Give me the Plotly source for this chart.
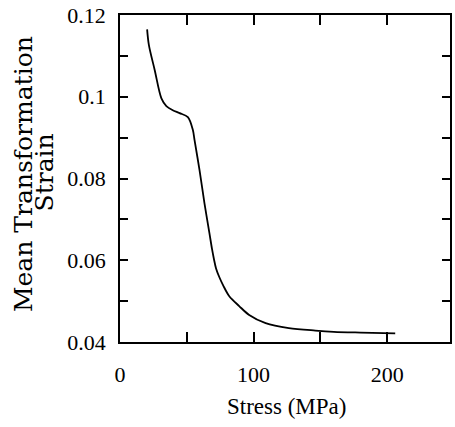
import plotly.graph_objects as go

# stress (MPa) vs mean transformation strain
stress = [20.3, 21.6, 26.0, 31.0, 34.7, 39.5, 44.6, 50.8, 54.5, 55.8, 59.5, 63.2,
          66.9, 68.9, 70.3, 71.9, 74.3, 77.3, 81.8, 89.2, 96.7, 109.0, 126.4, 146.2,
          160.0, 180.0, 206.0]
strain = [0.1165, 0.1127, 0.1065, 0.0996, 0.0977, 0.0967, 0.0960, 0.0950, 0.0919, 0.0894, 0.0821, 0.0740,
          0.0667, 0.0627, 0.0603, 0.0580, 0.0559, 0.0538, 0.0512, 0.0488, 0.0466, 0.0446, 0.0434, 0.0428,
          0.0425, 0.0423, 0.0421]

x_ticks = [0, 100, 200]
y_ticks = [0.04, 0.06, 0.08, 0.1, 0.12]
y_tick_text = ['0.04', '0.06', '0.08', '0.1', '0.12']

W, H = 455, 427
L, R, T, B = 120, 3, 15, 85
pw, ph = W - L - R, H - T - B


def px_x(p):
    return (p - L) / pw


def px_y(p):
    return (H - B - p) / ph


fig = go.Figure()
fig.add_trace(go.Scatter(
    x=stress, y=strain, mode='lines',
    line=dict(color='black', width=1.8, shape='spline', smoothing=0.9),
    showlegend=False, hoverinfo='skip'
))

serif = 'Liberation Serif, Times New Roman, Times, serif'
tick_font = dict(family=serif, size=22, color='black')
fig.update_xaxes(
    range=[0, 247], tickvals=x_ticks, ticks='inside', ticklen=10, tickwidth=1.5,
    tickcolor='black', showline=True, linecolor='black', linewidth=1.5, mirror='ticks',
    showgrid=False, zeroline=False, tickfont=tick_font, ticklabelstandoff=12,
    ticklabeloverflow='allow',
    minor=dict(tickvals=[50, 150], ticks='inside', ticklen=10, tickwidth=1.5, tickcolor='black', showgrid=False)
)
fig.update_yaxes(
    range=[0.04, 0.12], tickvals=y_ticks, ticktext=y_tick_text, ticks='inside', ticklen=8, tickwidth=1.5,
    tickcolor='black', showline=True, linecolor='black', linewidth=1.5, mirror='ticks',
    showgrid=False, zeroline=False, tickfont=tick_font, ticklabelstandoff=8,
    ticklabeloverflow='allow',
    minor=dict(tickvals=[0.05, 0.07, 0.09, 0.11], ticks='inside', ticklen=8, tickwidth=1.5,
               tickcolor='black', showgrid=False)
)

title_font = dict(family='DejaVu Serif', size=25, color='black')
fig.add_annotation(text='Mean Transformation', xref='paper', yref='paper',
                   x=px_x(22.5), y=px_y(174), textangle=-90, showarrow=False,
                   xanchor='center', yanchor='middle', font=title_font)
fig.add_annotation(text='Strain', xref='paper', yref='paper',
                   x=px_x(44), y=px_y(172), textangle=-90, showarrow=False,
                   xanchor='center', yanchor='middle', font=title_font)
fig.add_annotation(text='Stress (MPa)', xref='paper', yref='paper',
                   x=px_x(287.5), y=px_y(406), showarrow=False,
                   xanchor='center', yanchor='middle',
                   font=dict(family=serif, size=23, color='black'))

fig.update_layout(
    width=W, height=H, margin=dict(l=L, r=R, t=T, b=B),
    paper_bgcolor='white', plot_bgcolor='white'
)
# drop the page's default body margin so the figure sits at (0, 0)
fig.write_html('out.html', config={'displayModeBar': False},
               post_script="document.body.style.margin='0';")
